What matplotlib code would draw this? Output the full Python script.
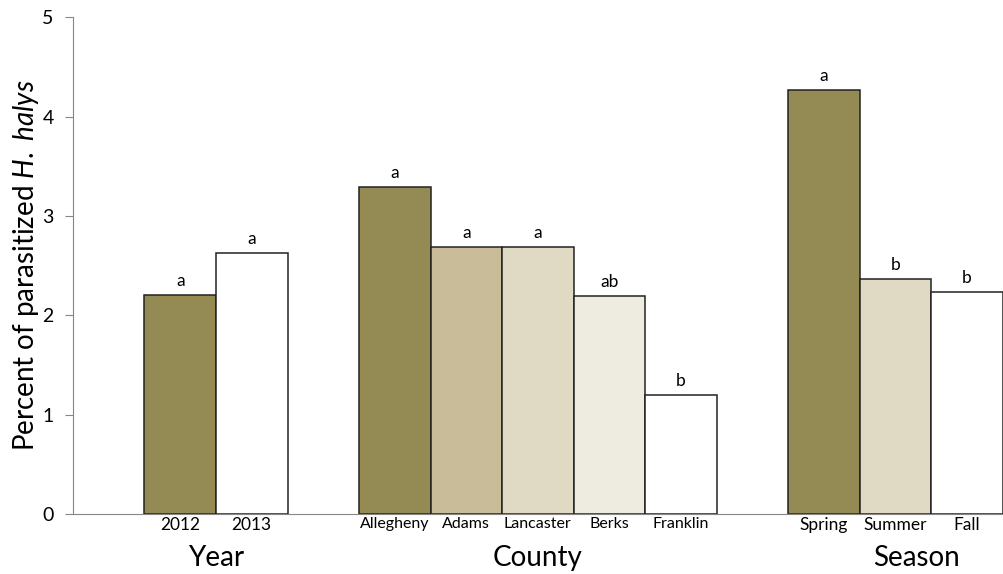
import matplotlib.pyplot as plt

plt.rcParams['font.family'] = ['Lato', 'DejaVu Sans']
plt.rcParams['mathtext.fontset'] = 'custom'
plt.rcParams['mathtext.it'] = 'Lato:italic'
plt.rcParams['mathtext.rm'] = 'Lato'

# percent parasitized, grouped by year / county / season
years = ['2012', '2013']
year_vals = [2.20, 2.63]
year_letters = ['a', 'a']

counties = ['Allegheny', 'Adams', 'Lancaster', 'Berks', 'Franklin']
county_vals = [3.29, 2.69, 2.69, 2.19, 1.20]
county_letters = ['a', 'a', 'a', 'ab', 'b']

seasons = ['Spring', 'Summer', 'Fall']
season_vals = [4.27, 2.37, 2.23]
season_letters = ['a', 'b', 'b']

olive = '#948A54'
year_colors = [olive, '#FFFFFF']
county_colors = [olive, '#C9BC98', '#E0DAC4', '#EEECE1', '#FFFFFF']
season_colors = [olive, '#E0DAC4', '#FFFFFF']

groups = [
    ('Year', years, year_vals, year_letters, year_colors, 0, 12.5),
    ('County', counties, county_vals, county_letters, county_colors, 3, 11.5),
    ('Season', seasons, season_vals, season_letters, season_colors, 9, 12.5),
]

fig = plt.figure(figsize=(10.04, 5.74), dpi=100)
ax = fig.add_axes([0.0727, 0.1045, 0.9273, 0.8655])

axis_grey = '#868686'
for name, labels, vals, letters, colors, start, fs in groups:
    xs = [start + i for i in range(len(vals))]
    ax.bar(xs, vals, width=1.0, color=colors, edgecolor='#222222', linewidth=1.1, zorder=2)
    for x, v, lt in zip(xs, vals, letters):
        ax.text(x, v + 0.06, lt, ha='center', va='bottom', fontsize=12.5)
    for x, lab in zip(xs, labels):
        ax.text(x, -0.03, lab, ha='center', va='top', fontsize=fs)
    mid = (xs[0] + xs[-1]) / 2
    ax.text(mid + (0.3 if name == 'Season' else 0.0), -0.31, name,
            ha='center', va='top', fontsize=20)

ax.set_xlim(-1.5, 11.52)
ax.set_ylim(0, 5)
ax.set_yticks([0, 1, 2, 3, 4, 5])
ax.tick_params(axis='y', direction='out', length=6, color=axis_grey,
               labelsize=14, pad=8)
ax.set_xticks([])
for s in ['top', 'right']:
    ax.spines[s].set_visible(False)
ax.spines['left'].set_color(axis_grey)
ax.spines['bottom'].set_color(axis_grey)
ax.set_ylabel(r'Percent of parasitized $\mathit{H.\ halys}$', fontsize=20, labelpad=1)

fig.savefig('out.png', dpi=100)
